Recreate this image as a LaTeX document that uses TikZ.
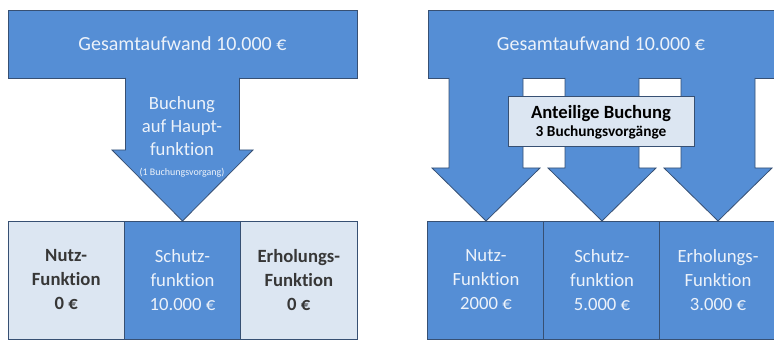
\documentclass[tikz,border=0pt]{standalone}
\usepackage{fontspec}
\setmainfont{Carlito}[Ligatures=NoCommon]
\usepackage{tikz}
\usetikzlibrary{positioning,calc}
\usepackage{xcolor}
\definecolor{midblue}{RGB}{85,142,213}
\definecolor{paleblue}{RGB}{220,230,242}
\definecolor{edgeblue}{RGB}{55,80,115}
\definecolor{lighttext}{RGB}{236,242,250}
\definecolor{darktext}{RGB}{55,55,55}
\tikzset{
  box/.style={rectangle, draw=edgeblue, line width=0.6pt, fill=midblue, inner sep=0pt, outer sep=0pt,
              align=center, text=lighttext, font=\fontsize{14}{18}\selectfont},
  topbox/.style={box, minimum height=51pt, font=\fontsize{15}{18}\selectfont},
  funcbox/.style={box, minimum width=87.25pt, minimum height=88.5pt},
  funcboxpale/.style={funcbox, fill=paleblue, text=darktext, font=\fontsize{14}{18}\selectfont\bfseries},
  notebox/.style={box, fill=paleblue, text=black, minimum width=139.5pt, minimum height=37.5pt},
  bigarrow/.style={fill=midblue, draw=edgeblue, line width=0.6pt, line join=miter},
  arrowtext/.style={align=center, text=lighttext, inner sep=0pt},
}

\begin{document}
\begin{tikzpicture}[x=0.75pt, y=0.75pt]
\useasboundingbox (0,0) rectangle (774,342);

\node[topbox, minimum width=261.75pt] (gesL) at (182.5,298) {Gesamtaufwand 10.000 €};
\node[funcboxpale] (nutzL) at (66.2,62) {Nutz-\\Funktion\\0 €};
\node[funcbox] (schutzL) at (182.5,62) {Schutz-\\funktion\\10.000 €};
\node[funcboxpale] (erholL) at (298.8,62) {Erholungs-\\Funktion\\0 €};
\draw[bigarrow] ($(gesL.south -| schutzL.north)+(-57,0)$) -- ($(schutzL.north)+(-57,71)$)
  -- ($(schutzL.north)+(-70.5,71)$) -- (schutzL.north) -- ($(schutzL.north)+(70.5,71)$)
  -- ($(schutzL.north)+(57,71)$) -- ($(gesL.south -| schutzL.north)+(57,0)$);
\node[arrowtext, font=\fontsize{14}{17}\selectfont] (buchL) at (182,216) {Buchung\\auf Haupt-\\funktion};
\node[arrowtext, font=\fontsize{7.5}{9}\selectfont] (vorgL) at (182,169) {(1 Buchungsvorgang)};

\node[topbox, minimum width=259.5pt] (gesR) at (601,298) {Gesamtaufwand 10.000 €};
\node[funcbox] (nutzR) at (486,62) {Nutz-\\Funktion\\2000 €};
\node[funcbox] (schutzR) at (602,62) {Schutz-\\funktion\\5.000 €};
\node[funcbox] (erholR) at (718,62) {Erholungs-\\Funktion\\3.000 €};
\foreach \f in {nutzR, schutzR, erholR}
  \draw[bigarrow] ($(gesR.south -| \f.north)+(-37,0)$) -- ($(\f.north)+(-37,53)$)
    -- ($(\f.north)+(-54,53)$) -- (\f.north) -- ($(\f.north)+(54,53)$)
    -- ($(\f.north)+(37,53)$) -- ($(gesR.south -| \f.north)+(37,0)$);
\node[notebox, text depth=0pt] (anteil) at (601,221) {{\bfseries Anteilige Buchung}\\[-5pt]{\fontsize{11.5}{13}\selectfont\bfseries 3 Buchungsvorgänge}};
\end{tikzpicture}
\end{document}
